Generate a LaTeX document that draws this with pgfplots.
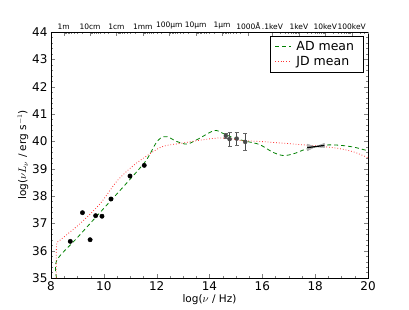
\documentclass[border=0pt]{standalone}
\usepackage{fontspec}
\setmainfont{DejaVu Sans}
\usepackage{pgfplots}
\pgfplotsset{compat=1.18}
\definecolor{mplgreen}{rgb}{0,0.5,0}
\begin{document}
\begin{tikzpicture}
\path[use as bounding box] (-51pt,-31pt) rectangle (358pt,278pt);
\begin{axis}[
  scale only axis, width=317pt, height=246pt, at={(0,0)}, anchor=south west,
  xmin=8, xmax=20, ymin=35, ymax=44,
  xtick={8,10,...,20}, ytick={35,36,...,44},
  minor x tick num=3, minor y tick num=4,
  xtick pos=bottom, ytick pos=both,
  tick align=inside,
  major tick length=4pt, minor tick length=2pt,
  /pgf/number format/assume math mode=true,
  tick label style={font=\fontsize{12}{14}\selectfont},
  label style={font=\fontsize{10.5}{12}\selectfont},
  xlabel={log($\nu$ / Hz)},
  ylabel={log($\nu L_\nu$ / erg s$^{-1}$)},
  xlabel style={yshift=3pt},
  ylabel style={yshift=-3pt},
  axis line style={line width=0.8pt},
  legend style={at={(0.985,0.985)}, anchor=north east, font=\fontsize{12.5}{15}\selectfont, inner xsep=4pt, inner ysep=3pt, row sep=1pt,
    nodes={inner xsep=5pt}},
  legend image code/.code={\draw[#1] (0pt,0pt) -- (16pt,0pt);},
  legend cell align=left,
]
\addlegendimage{mplgreen, dash pattern=on 4pt off 3pt, line width=0.8pt}
\addlegendentry{AD mean}
\addlegendimage{red!80, dotted, line width=0.8pt}
\addlegendentry{JD mean}
\addplot[mplgreen, dash pattern=on 4pt off 3pt, line width=0.8pt, smooth, forget plot] coordinates {
(8.21,35.0) (8.22,35.65) (9,36.48) (10,37.55) (11,38.62) (11.6,39.3) (11.95,39.9) (12.15,40.12) (12.4,40.17) (12.75,40.0) (13.15,39.9) (13.6,40.1) (14.0,40.32) (14.25,40.4) (14.6,40.25) (15.0,40.1) (15.4,40.0) (15.9,39.88) (16.4,39.6) (16.8,39.48) (17.2,39.55) (17.6,39.7) (18.0,39.8) (18.5,39.87) (19.0,39.85) (19.5,39.78) (20,39.65)
};
\addplot[red!80, dotted, line width=0.8pt, smooth, forget plot] coordinates {
(8.2,35.0) (8.21,36.2) (8.34,36.38) (9.1,36.99) (9.86,37.72) (10.5,38.55) (11.1,39.1) (11.75,39.55) (12.25,39.82) (13.0,39.94) (13.7,40.05) (14.3,40.12) (14.8,40.1) (15.2,40.03) (16,39.99) (17.2,39.9) (18.4,39.8) (19,39.72) (19.5,39.6) (20,39.4)
};
\addplot[only marks, mark=*, mark size=2.2pt, black, forget plot] coordinates {
(8.73,36.34) (9.19,37.39) (9.48,36.40) (9.69,37.28) (9.93,37.26) (10.27,37.89) (10.99,38.73) (11.53,39.12)
};
\addplot[only marks, mark=none, black!70, forget plot,
  error bars/.cd, y dir=both, y explicit, error bar style={line width=0.8pt, black!70}, error mark options={rotate=90, mark size=2pt, black!60}]
  coordinates {
  (14.62,40.2) +- (0,0.1)
  (14.76,40.08) +- (0,0.26)
  (15.03,40.1) +- (0,0.24)
  (15.35,39.98) +- (0,0.3)
};
\addplot[fill=gray!60, draw=gray!70, forget plot] coordinates {
(17.7,39.65) (18.0,39.8) (18.35,39.93) (18.35,39.77) (18.0,39.8) (17.7,39.9) (17.7,39.65)
};
\addplot[black, line width=1.2pt, forget plot] coordinates {(17.7,39.77) (18.35,39.85)};
\end{axis}
\begin{axis}[
  scale only axis, width=317pt, height=246pt, at={(0,0)}, anchor=south west,
  xmin=8, xmax=20, ymin=35, ymax=44,
  axis x line*=top, axis y line=none,
  tick align=inside,
  major tick length=4pt, minor tick length=2pt,
  xtick={8.477,9.477,10.477,11.477,12.477,13.477,14.477,15.477,16.383,17.383,18.383,19.383},
  xticklabels={1m,10cm,1cm,1mm,100μm,10μm,1μm,1000Å,.1keV,1keV,10keV,100keV},
  tick label style={font=\fontsize{7.5}{8}\selectfont},
  xticklabel style={yshift=-1pt},
  minor xtick={8.523,8.574,8.632,8.699,8.778,8.875,9.0,9.176,
  9.523,9.574,9.632,9.699,9.778,9.875,10.0,10.176,
  10.523,10.574,10.632,10.699,10.778,10.875,11.0,11.176,
  11.523,11.574,11.632,11.699,11.778,11.875,12.0,12.176,
  12.523,12.574,12.632,12.699,12.778,12.875,13.0,13.176,
  13.523,13.574,13.632,13.699,13.778,13.875,14.0,14.176,
  14.523,14.574,14.632,14.699,14.778,14.875,15.0,15.176,
  16.684,16.860,16.985,17.082,17.161,17.228,17.286,17.337,
  17.684,17.860,17.985,18.082,18.161,18.228,18.286,18.337,
  18.684,18.860,18.985,19.082,19.161,19.228,19.286,19.337,
  19.684,19.860,19.985},
  axis line style={line width=0.8pt},
]
\addplot[draw=none] coordinates {(8,35) (20,44)};
\end{axis}
\end{tikzpicture}
\end{document}
